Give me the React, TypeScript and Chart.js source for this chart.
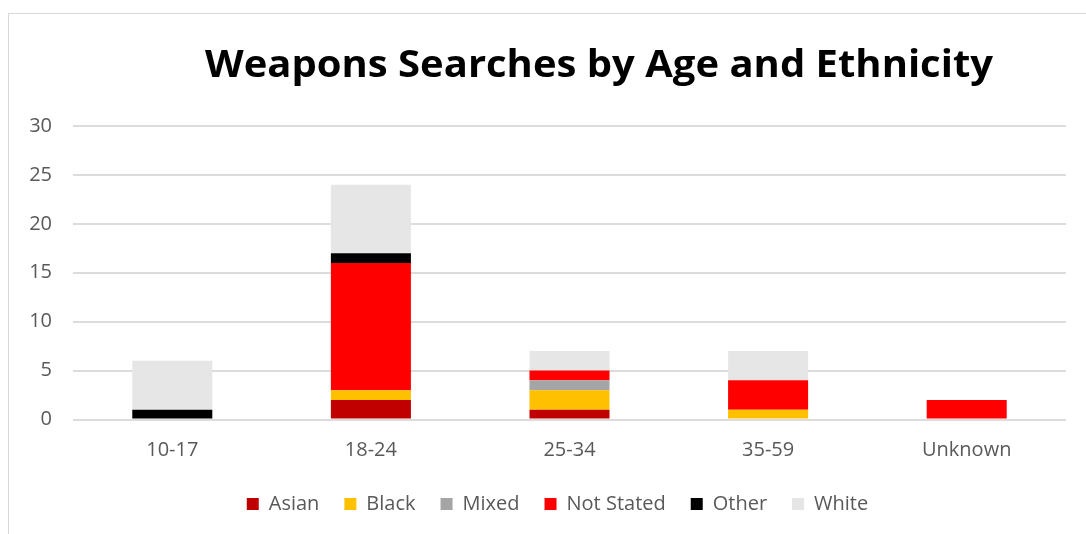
import React, { useEffect, useRef } from "react";
import { Chart, registerables } from "chart.js";

Chart.register(...registerables);

const TITLE = "Weapons Searches by Age and Ethnicity";
const categories = ["10-17", "18-24", "25-34", "35-59", "Unknown"];
const asian = [0, 2, 1, 0, 0];
const black = [0, 1, 2, 1, 0];
const mixed = [0, 0, 1, 0, 0];
const notStated = [0, 13, 1, 3, 2];
const other = [1, 1, 0, 0, 0];
const white = [5, 7, 2, 3, 0];

const seriesNames = ["Asian", "Black", "Mixed", "Not Stated", "Other", "White"];
const seriesColors = ["#c00000", "#ffc000", "#a5a5a5", "#ff0000", "#000000", "#e6e6e6"];
const seriesValues = [asian, black, mixed, notStated, other, white];

const yMin = 0;
const yMax = 30;
const yStep = 5;

const titlePlugin = {
  id: "customTitle",
  afterDraw(chart: any) {
    const ctx = chart.ctx;
    ctx.save();
    ctx.font = 'bold 37px "Open Sans"';
    ctx.fillStyle = "#000000";
    ctx.textAlign = "center";
    ctx.textBaseline = "alphabetic";
    const w = ctx.measureText(TITLE).width;
    const sx = 788 / w;
    ctx.translate(590, 63);
    ctx.scale(sx, 1);
    ctx.fillText(TITLE, 0, 0);
    ctx.restore();
  },
};

export default function App() {
  const ref = useRef<HTMLCanvasElement>(null);
  useEffect(() => {
    if (!ref.current) return;
    const font = { family: '"Open Sans"', size: 20 };
    const chart = new Chart(ref.current, {
      type: "bar",
      data: {
        labels: categories,
        datasets: seriesNames.map((name, i) => ({
          label: name,
          data: seriesValues[i],
          backgroundColor: seriesColors[i],
          borderWidth: 0,
          barPercentage: 0.403,
          categoryPercentage: 1,
          yAxisID: "y",
        })),
      },
      options: {
        responsive: false,
        animation: false,
        layout: { padding: { left: 13, right: 0, top: 112, bottom: 10 } },
        plugins: {
          title: { display: false },
          tooltip: { enabled: false },
          legend: {
            position: "bottom",
            labels: {
              boxWidth: 12,
              boxHeight: 12,
              padding: 25,
              color: "#595959",
              font,
            },
          },
        },
        scales: {
          x: {
            stacked: true,
            grid: { display: false, drawTicks: false },
            border: { display: false },
            ticks: { color: "#595959", font, padding: 19 },
            afterFit: (s: any) => {
              s.height = 49.5;
            },
          },
          y: {
            stacked: true,
            position: "left",
            min: yMin,
            max: yMax,
            ticks: { stepSize: yStep, color: "#595959", font, padding: 21 },
            grid: { color: "#dcdcdc", lineWidth: 2, drawTicks: false },
            border: { display: false },
            afterFit: (s: any) => {
              s.width = 51;
            },
          },
          yRight: {
            position: "right",
            display: true,
            grid: { display: false, drawTicks: false },
            ticks: { display: false },
            border: { display: false },
            afterFit: (s: any) => {
              s.width = 27;
            },
          },
        },
      },
      plugins: [titlePlugin],
    });
    return () => chart.destroy();
  }, []);

  return (
    <div
      style={{
        position: "absolute",
        left: 8,
        top: 13,
        width: 1078,
        height: 521,
        boxSizing: "border-box",
        borderLeft: "1px solid #d9d9d9",
        borderTop: "1px solid #d9d9d9",
        background: "#ffffff",
        overflow: "hidden",
      }}
    >
      <canvas ref={ref} width={1084} height={520} style={{ display: "block" }} />
    </div>
  );
}
